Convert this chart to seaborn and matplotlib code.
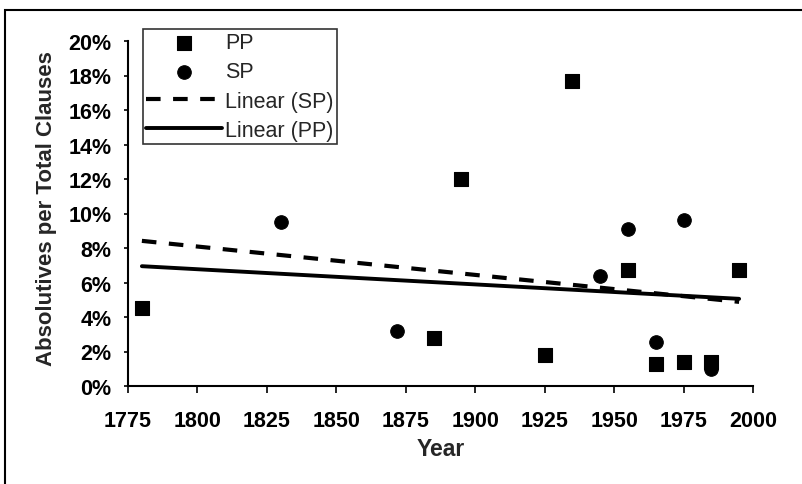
import numpy as np
import pandas as pd
import seaborn as sns
from matplotlib import pyplot as plt
from matplotlib.patches import Rectangle
from matplotlib.ticker import FuncFormatter

# values (percent of total clauses)
pp_years = [1780, 1885, 1895, 1925, 1935, 1955, 1965, 1975, 1985, 1995]
pp_values = [4.5, 2.8, 12.0, 1.8, 17.7, 6.7, 1.3, 1.4, 1.4, 6.7]
sp_years = [1830, 1872, 1945, 1955, 1965, 1975, 1985]
sp_values = [9.5, 3.2, 6.4, 9.1, 2.55, 9.6, 1.0]
trend_span = [1780, 1995]

sns.set_style('white')
plt.rcParams['font.family'] = ['Liberation Sans', 'DejaVu Sans']

pp = pd.DataFrame({'Year': pp_years, 'Share': pp_values})
sp = pd.DataFrame({'Year': sp_years, 'Share': sp_values})

# linear trend lines, as Excel draws them
def trend(df):
    slope, icpt = np.polyfit(df['Year'], df['Share'], 1)
    xs = np.array(trend_span)
    return pd.DataFrame({'Year': xs, 'Share': slope * xs + icpt})

fig = plt.figure(figsize=(8.02, 4.85), dpi=100)
ax = fig.add_axes([128 / 802, 1 - 387 / 485, 625 / 802, 345 / 485])

sns.scatterplot(data=pp, x='Year', y='Share', marker='s', s=95, color='black',
                edgecolor='black', label='PP', ax=ax, zorder=3)
sns.scatterplot(data=sp, x='Year', y='Share', marker='o', s=95, color='black',
                edgecolor='black', label='SP', ax=ax, zorder=3)
sns.lineplot(data=trend(sp), x='Year', y='Share', color='black', lw=3,
             linestyle=(0, (3.5, 3)), label='Linear (SP)', ax=ax)
sns.lineplot(data=trend(pp), x='Year', y='Share', color='black', lw=2.8,
             label='Linear (PP)', ax=ax)

ax.set_xlim(1775, 2000)
ax.set_ylim(0, 20)
ax.set_xticks(range(1775, 2001, 25))
ax.set_yticks(range(0, 21, 2))
ax.yaxis.set_major_formatter(FuncFormatter(lambda v, p: f'{v:.0f}%'))
ax.set_xlabel('')
ax.set_ylabel('')

sns.despine(ax=ax)
for s in ['left', 'bottom']:
    ax.spines[s].set_color('black')
    ax.spines[s].set_linewidth(1.5)
ax.tick_params(axis='x', direction='out', length=5, width=1.2, pad=12,
               labelsize=15.5, colors='black', bottom=True)
ax.tick_params(axis='y', direction='out', length=3, width=1.2, pad=9,
               labelsize=15.5, colors='black', left=True)
for lab in ax.get_xticklabels() + ax.get_yticklabels():
    lab.set_fontweight('bold')

fig.text(47 / 802, 1 - 209 / 485, 'Absolutives per Total Clauses', rotation=90,
         ha='center', va='center', fontsize=16, fontweight='bold')
fig.text(441 / 802, 1 - 450 / 485, 'Year', ha='center', va='center',
         fontsize=16.5, fontweight='bold')

leg = ax.legend(loc='upper left', bbox_to_anchor=(143 / 802, 1 - 30 / 485),
                bbox_transform=fig.transFigure, fontsize=15.5, frameon=True,
                fancybox=False, edgecolor='black', handlelength=3.5,
                handletextpad=0.15, borderpad=0.15, labelspacing=0.38,
                borderaxespad=0)
leg.get_frame().set_linewidth(1.2)

# chart-area border (only the left and top edges show in the scan)
fig.patches.append(Rectangle((5 / 802, -0.2), 1.2, 1.2 - 11 / 485,
                             transform=fig.transFigure, fill=False,
                             edgecolor='black', lw=1.5))

fig.savefig('out.png', dpi=100)
